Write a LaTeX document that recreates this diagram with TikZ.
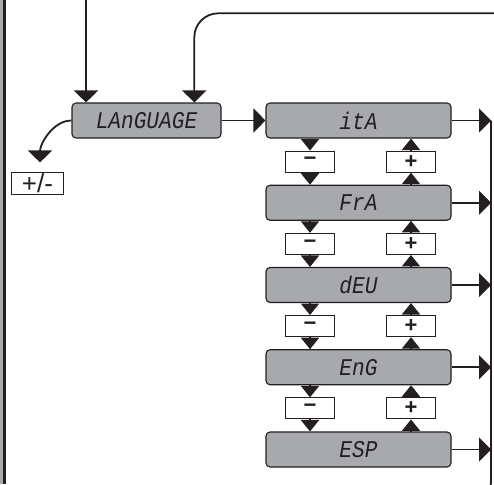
\documentclass[tikz,border=0pt]{standalone}
\usepackage{fontspec}
\setmainfont{Liberation Sans}
\newfontfamily\lcd[FakeStretch=0.88]{Liberation Mono}
\usetikzlibrary{arrows.meta}
\definecolor{lcdgray}{HTML}{A7A9AC}
\definecolor{ink}{HTML}{231F20}
\tikzset{
  lcdbox/.style={draw=ink, line width=1.1pt, fill=lcdgray, rounded corners=4pt,
    minimum height=35pt, inner sep=0pt, text=ink, font=\lcd\itshape\fontsize{24}{24}\selectfont},
  keybox/.style={draw=ink, line width=1.1pt, fill=white, minimum width=49pt,
    minimum height=21pt, inner sep=0pt, text=ink, font=\bfseries\fontsize{22}{22}\selectfont},
  conn/.style={draw=ink, line width=1.8pt},
  bigtip/.style={-{Triangle[length=12pt,width=24pt]}},
  smalltip/.style={-{Triangle[length=11.5pt,width=18pt]}},
}
\begin{document}
\begin{tikzpicture}[x=1pt,y=-1pt]
\useasboundingbox (0,0) rectangle (494,484);
\clip (0,0) rectangle (494,484);
% left border
\fill[lcdgray] (0,0) rectangle (3.3,484);
\draw[ink, line width=2.4pt] (4.5,0) -- (4.5,484);

% nodes
\node[lcdbox, minimum width=149pt] (lang) at (146.5,120.5) {LAnGUAGE};
\node[lcdbox, minimum width=185pt] (b1) at (358.5,120.5) {itA};
\node[lcdbox, minimum width=185pt] (b2) at (358.5,202.75) {FrA};
\node[lcdbox, minimum width=185pt] (b3) at (358.5,285) {dEU};
\node[lcdbox, minimum width=185pt] (b4) at (358.5,367.25) {EnG};
\node[lcdbox, minimum width=185pt] (b5) at (358.5,449.5) {ESP};
\foreach \k/\y in {1/161.6,2/243.9,3/326.1,4/408.4}{
  \node[keybox] (m\k) at (310,\y) {−};
  \node[keybox] (p\k) at (411,\y) {+};
}
\node[keybox, minimum width=52pt, minimum height=21.6pt, font=\fontsize{26}{26}\selectfont] (pm) at (37.5,183.5) {+/-};

% coordinates
\coordinate (topin) at (86,-5);
\coordinate (loopR) at (500,13.3);
\coordinate (loopC) at (194.3,13.3);
\coordinate (railT) at (491,120.5);
\coordinate (railB) at (491,492);
\coordinate (railL) at (470,492);

% connectors
\draw[conn,bigtip] (topin) -- (lang.north -| topin);
\draw[conn,bigtip,rounded corners=24pt] (loopR) -- (loopC) -- (lang.north -| loopC);
\draw[conn,bigtip] (lang.east) -- (b1.west);
\draw[conn,bigtip] (lang.west) to[out=180,in=90,looseness=0.9] ([xshift=2.5pt,yshift=9.7pt]pm.north);
\foreach \k in {1,...,5}{
  \draw[conn,bigtip] (b\k.east) -- (b\k.east -| railT);
}
\draw[conn,rounded corners=9pt] (railT) -- (railB) -- (railL);
\foreach \k/\n in {1/2,2/3,3/4,4/5}{
  \draw[conn,smalltip] (b\k.south -| m\k) -- (m\k.north);
  \draw[conn,smalltip] (m\k.south) -- (b\n.north -| m\k);
  \draw[conn,smalltip] (b\n.north -| p\k) -- (p\k.south);
  \draw[conn,smalltip] (p\k.north) -- (b\k.south -| p\k);
}
\end{tikzpicture}
\end{document}
